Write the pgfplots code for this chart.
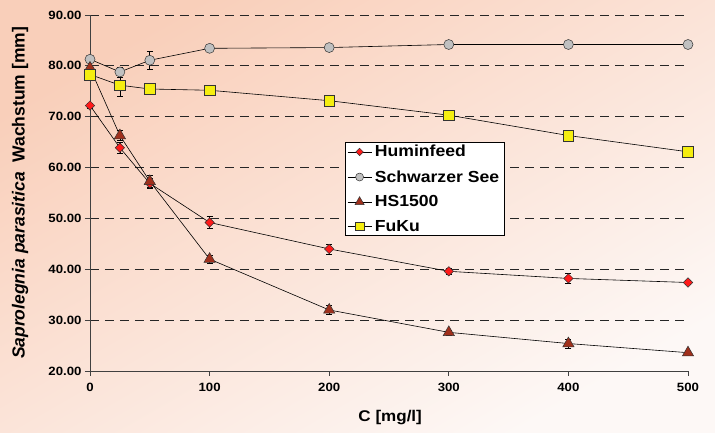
\documentclass[border=0pt]{standalone}
\usepackage{pgfplots}
\pgfplotsset{compat=1.18}
\usepackage{fontspec}
\setmainfont{Liberation Sans}[FakeStretch=1.1]
\newfontfamily\ylabfont{Liberation Sans}
\definecolor{hum}{HTML}{FF1A1A}
\definecolor{ss}{HTML}{C0C0C0}
\definecolor{hs}{HTML}{A0301C}
\definecolor{fuku}{HTML}{F5EE10}
\definecolor{bgL}{HTML}{F9CFBA}
\definecolor{bgR}{HTML}{FDF8F6}

\pgfplotstableread{
x y e
0 72.2 0.5
25 63.9 1.0
50 56.9 1.0
100 49.2 1.2
200 44.0 1.0
300 39.6 0.5
400 38.2 1.0
500 37.4 0.4
}\hum
\pgfplotstableread{
x y e
0 81.3 0.5
25 78.8 1.0
50 81.1 1.7
100 83.45 0.5
200 83.6 0.3
300 84.2 0.3
400 84.2 0.3
500 84.2 0.3
}\ss
\pgfplotstableread{
x y e
0 79.6 0.5
25 66.3 1.0
50 57.3 1.2
100 42.0 0.8
200 32.0 0.9
300 27.6 0.5
400 25.4 0.9
500 23.6 0.3
}\hs
\pgfplotstableread{
x y e
0 78.3 0.5
25 76.2 2.2
50 75.45 0.5
100 75.2 0.5
200 73.15 0.3
300 70.3 0.3
400 66.3 0.3
500 63.1 0.3
}\fuku

\begin{document}
\begin{tikzpicture}
\shade[left color=bgL, right color=bgR, shading angle=30] (-90pt,-62pt) rectangle (625pt,371pt);
\begin{axis}[
  at={(0pt,0pt)}, anchor=south west,
  scale only axis, width=598pt, height=356pt,
  xmin=0, xmax=500, ymin=20, ymax=90,
  axis lines*=left,
  axis line style={black!75, line width=0.8pt},
  xtick={0,100,...,500}, ytick={20,30,...,90},
  tick align=outside, major tick length=5pt,
  tick style={black!75, line width=0.8pt},
  ymajorgrids,
  grid style={black!85, line width=0.8pt, dash pattern=on 9pt off 6pt},
  /pgf/number format/assume math mode=true,
  tick label style={font=\fontsize{12}{14}\selectfont\bfseries},
  yticklabel style={/pgf/number format/.cd, fixed, fixed zerofill, precision=2},
  xticklabel style={yshift=-4pt},
  every axis x label/.style={at={(axis description cs:0.502,0)}, anchor=center, yshift=-47pt, font=\fontsize{15.5}{17}\selectfont\bfseries},
  every axis y label/.style={at={(axis description cs:0,0.5)}, anchor=center, xshift=-70pt, rotate=90, font=\ylabfont\fontsize{17.5}{19}\selectfont\bfseries},
  xlabel={C [mg/l]},
  ylabel={\textit{Saprolegnia parasitica}\ \ Wachstum [mm]},
  legend style={at={(0.4264,0.643)}, anchor=north west, draw=black, fill=white, line width=0.6pt,
    font=\fontsize{16}{18}\selectfont\bfseries, row sep=10pt, inner sep=2pt,
    nodes={inner xsep=3pt, inner ysep=1pt}},
  legend cell align=left,
  legend image code/.code={\draw[mark repeat=2,mark phase=2,#1] plot coordinates {(0pt,0pt) (12pt,0pt) (24pt,0pt)};},
  legend image post style={/tikz/every mark/.append style={scale=0.8}},
  clip=false,
  error bars/error bar style={black, line width=0.6pt},
  error bars/error mark options={rotate=90, mark size=3pt, black, line width=0.6pt},
]
\addplot[black, line width=0.6pt, mark=square*, mark options={rotate=45, fill=hum, draw=black!80, mark size=3.3pt, line width=0.5pt},
  error bars/.cd, y dir=both, y explicit] table[x=x, y=y, y error=e] {\hum};
\addlegendentry{Huminfeed}
\addplot[black, line width=0.6pt, mark=*, mark options={fill=ss, draw=black!80, mark size=5pt, line width=0.5pt},
  error bars/.cd, y dir=both, y explicit] table[x=x, y=y, y error=e] {\ss};
\addlegendentry{Schwarzer See}
\addplot[black, line width=0.6pt, mark=triangle*, mark options={fill=hs, draw=black!80, mark size=6.5pt, line width=0.5pt},
  error bars/.cd, y dir=both, y explicit] table[x=x, y=y, y error=e] {\hs};
\addlegendentry{HS1500}
\addplot[black, line width=0.6pt, mark=square*, mark options={fill=fuku, draw=black!80, mark size=5.3pt, line width=0.5pt},
  error bars/.cd, y dir=both, y explicit] table[x=x, y=y, y error=e] {\fuku};
\addlegendentry{FuKu}
\end{axis}
\end{tikzpicture}
\end{document}
